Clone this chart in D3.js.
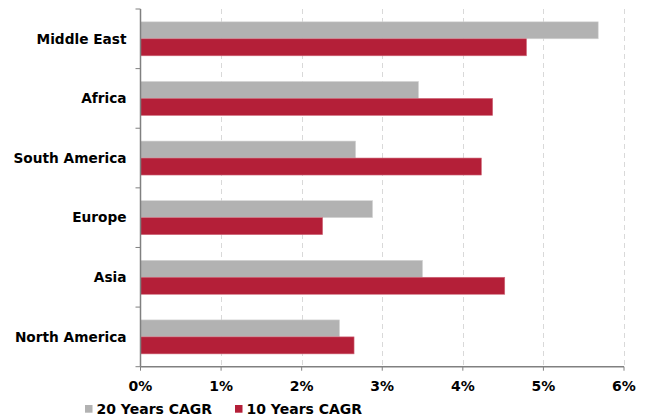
<!DOCTYPE html>
<html><head><meta charset="utf-8">
<script src="https://cdn.jsdelivr.net/npm/d3@7"></script>
<style>
html,body{margin:0;padding:0;background:#fff;}
text{font-family:"DejaVu Sans",Verdana,sans-serif;font-weight:bold;fill:#000;}
</style></head>
<body><svg id="c" width="651" height="417"></svg>
<script>
const categories = ["Middle East","Africa","South America","Europe","Asia","North America"];
const cagr20 = [5.68,3.45,2.67,2.88,3.50,2.47];
const cagr10 = [4.79,4.37,4.23,2.26,4.52,2.65];
const seriesNames = ["20 Years CAGR","10 Years CAGR"];
const colors = ["#b2b2b2","#b41f38"];
const xTicks = [0,1,2,3,4,5,6];

const svg = d3.select("#c");
const m = {l:140.5, r:27, t:9, b:50.3};
const W = 651, H = 417;
const x = d3.scaleLinear().domain([0,6]).range([m.l, W - m.r]);
const y = d3.scaleBand().domain(categories).range([m.t, H - m.b]).paddingInner(0).paddingOuter(0);
// group occupies ~57% of band, centered
const groupH = y.bandwidth()*0.57;
const barH = groupH/2;
const off = (y.bandwidth()-groupH)/2;

// gridlines
svg.append("g").selectAll("line").data(xTicks.slice(1)).join("line")
  .attr("x1", d=>Math.round(x(d))+0.5).attr("x2", d=>Math.round(x(d))+0.5)
  .attr("y1", m.t).attr("y2", H-m.b)
  .attr("stroke","#d9d9d9").attr("stroke-width",1).attr("stroke-dasharray","5,4");

const data = categories.map((c,i)=>({c, v:[cagr20[i], cagr10[i]]}));
const g = svg.append("g");
data.forEach(d=>{
  d.v.forEach((v,j)=>{
    g.append("rect")
      .attr("x", x(0)).attr("width", x(v)-x(0))
      .attr("y", y(d.c)+off+j*barH).attr("height", barH)
      .attr("fill", colors[j])
      .attr("stroke", j===0 ? "#d6d6d6" : "#cf6a7b").attr("stroke-width",0.6);
  });
});

// y axis
const ya = svg.append("g").attr("transform",`translate(${x(0)},0)`);
ya.append("line").attr("x1",0).attr("x2",0).attr("y1",m.t).attr("y2",H-m.b).attr("stroke","#808080").attr("stroke-width",1.5);
const bounds = categories.map(c=>y(c)).concat([y(categories[categories.length-1])+y.bandwidth()]);
ya.selectAll(".tk").data(bounds).join("line").attr("class","tk")
  .attr("x1",-5).attr("x2",0).attr("y1",d=>d).attr("y2",d=>d).attr("stroke","#808080").attr("stroke-width",1);
ya.selectAll("text").data(categories).join("text")
  .attr("x",-14).attr("y",d=>y(d)+y.bandwidth()/2).attr("dy","0.35em")
  .attr("text-anchor","end").attr("font-size",13.7).text(d=>d);

// x axis
const xa = svg.append("g").attr("transform",`translate(0,${H-m.b})`);
xa.append("line").attr("x1",x(0)).attr("x2",x(6)).attr("stroke","#808080").attr("stroke-width",1.5);
xa.selectAll(".tk").data(xTicks).join("line").attr("class","tk")
  .attr("x1",d=>x(d)).attr("x2",d=>x(d)).attr("y1",0).attr("y2",4).attr("stroke","#808080");
xa.selectAll("text").data(xTicks).join("text")
  .attr("x",d=>x(d)).attr("y",24.3).attr("text-anchor","middle").attr("font-size",14)
  .text(d=>d3.format(".0%")(d/100));

// legend
const lg = svg.append("g").attr("transform","translate(85,414.3)");
const lx = [0,150];
seriesNames.forEach((s,i)=>{
  lg.append("rect").attr("x",lx[i]).attr("y",-9.3).attr("width",7.5).attr("height",7.7).attr("fill",colors[i]);
  lg.append("text").attr("x",lx[i]+11.5).attr("y",0).attr("font-size",14).text(s);
});
</script></body></html>
